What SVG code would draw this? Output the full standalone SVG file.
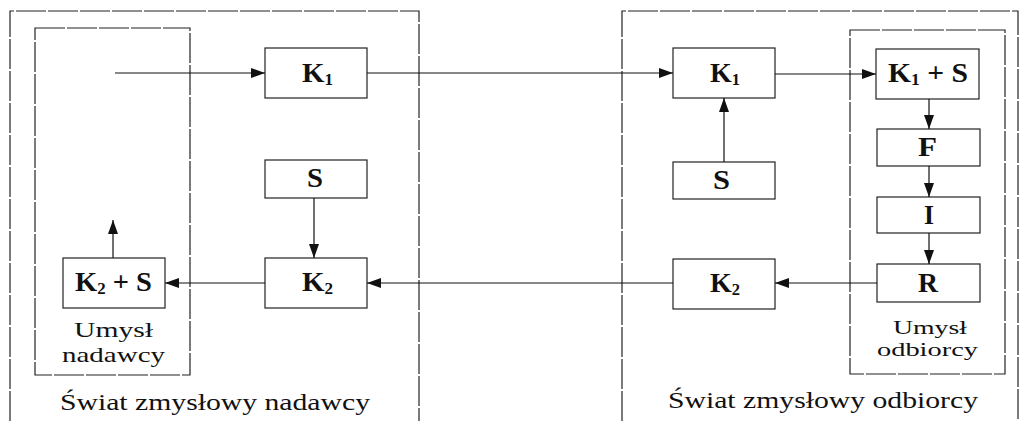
<svg xmlns="http://www.w3.org/2000/svg" width="1024" height="421" viewBox="0 0 1024 421">
<defs>
<marker id="arr" markerUnits="userSpaceOnUse" markerWidth="14" markerHeight="10" refX="14" refY="5" orient="auto">
<path d="M0,0 L14,5 L0,10 z" fill="#111"/>
</marker>
<style>
.frame{fill:none;stroke:#222;stroke-width:1.2;stroke-dasharray:30 2}
.box{fill:#fff;stroke:#222;stroke-width:1.2}
.lbl{font-family:"Liberation Serif","Times New Roman",serif;font-weight:bold;font-size:27px;fill:#111}
.sub{font-size:16px}
.cap{font-family:"Liberation Serif","Times New Roman",serif;font-size:24px;fill:#111}
.cap2{font-family:"Liberation Serif","Times New Roman",serif;font-size:21px;fill:#111}
.cap3{font-family:"Liberation Serif","Times New Roman",serif;font-size:19px;fill:#111}
.conn{fill:none;stroke:#111;stroke-width:1.2;marker-end:url(#arr)}
</style>
</defs>
<rect width="1024" height="421" fill="#fff"/>

<g id="swiat-nadawcy">
<path class="frame" d="M10,421 V11 H419 V421"/>
<text class="cap" x="60" y="410" textLength="310" lengthAdjust="spacingAndGlyphs">Świat zmysłowy nadawcy</text>
</g>
<g id="swiat-odbiorcy">
<path class="frame" d="M622,421 V11 H1018 V421"/>
<text class="cap" x="668" y="408" textLength="310" lengthAdjust="spacingAndGlyphs">Świat zmysłowy odbiorcy</text>
</g>
<g id="umysl-nadawcy">
<rect class="frame" x="35" y="28" width="155" height="347"/>
<text class="cap2" x="74" y="337" textLength="79" lengthAdjust="spacingAndGlyphs">Umysł</text>
<text class="cap2" x="62" y="362" textLength="103" lengthAdjust="spacingAndGlyphs">nadawcy</text>
</g>
<g id="umysl-odbiorcy">
<rect class="frame" x="850" y="30" width="155" height="344"/>
<text class="cap3" x="893" y="334" textLength="74" lengthAdjust="spacingAndGlyphs">Umysł</text>
<text class="cap3" x="877" y="356" textLength="101" lengthAdjust="spacingAndGlyphs">odbiorcy</text>
</g>

<g id="k1-nadawca">
<rect class="box" x="265" y="48" width="102" height="50"/>
<text class="lbl" x="302" y="82" textLength="31" lengthAdjust="spacingAndGlyphs">K<tspan class="sub" dy="3">1</tspan></text>
</g>
<g id="s-nadawca">
<rect class="box" x="265" y="160" width="102" height="38"/>
<text class="lbl" x="307" y="187" textLength="16" lengthAdjust="spacingAndGlyphs">S</text>
</g>
<g id="k2-nadawca">
<rect class="box" x="265" y="258" width="102" height="50"/>
<text class="lbl" x="302" y="291" textLength="31" lengthAdjust="spacingAndGlyphs">K<tspan class="sub" dy="3">2</tspan></text>
</g>
<g id="k2s">
<rect class="box" x="63" y="258" width="102" height="50"/>
<text class="lbl" x="75" y="291" textLength="77" lengthAdjust="spacingAndGlyphs">K<tspan class="sub" dy="3">2</tspan><tspan dy="-3"> + S</tspan></text>
</g>
<g id="k1-odbiorca">
<rect class="box" x="673" y="48" width="102" height="50"/>
<text class="lbl" x="710" y="82" textLength="30" lengthAdjust="spacingAndGlyphs">K<tspan class="sub" dy="3">1</tspan></text>
</g>
<g id="s-odbiorca">
<rect class="box" x="673" y="162" width="102" height="37"/>
<text class="lbl" x="713" y="189" textLength="17" lengthAdjust="spacingAndGlyphs">S</text>
</g>
<g id="k2-odbiorca">
<rect class="box" x="673" y="259" width="102" height="50"/>
<text class="lbl" x="710" y="292" textLength="30" lengthAdjust="spacingAndGlyphs">K<tspan class="sub" dy="3">2</tspan></text>
</g>
<g id="k1s">
<rect class="box" x="876" y="49" width="103" height="50"/>
<text class="lbl" x="888" y="82" textLength="80" lengthAdjust="spacingAndGlyphs">K<tspan class="sub" dy="3">1</tspan><tspan dy="-3"> + S</tspan></text>
</g>
<g id="f">
<rect class="box" x="877" y="129" width="103" height="37"/>
<text class="lbl" x="918" y="156" textLength="19" lengthAdjust="spacingAndGlyphs">F</text>
</g>
<g id="i">
<rect class="box" x="877" y="197" width="103" height="36"/>
<text class="lbl" x="924" y="224" textLength="10" lengthAdjust="spacingAndGlyphs">I</text>
</g>
<g id="r">
<rect class="box" x="877" y="264" width="103" height="38"/>
<text class="lbl" x="918" y="292" textLength="20" lengthAdjust="spacingAndGlyphs">R</text>
</g>

<g id="connectors">
<path class="conn" d="M115,73 H265"/>
<path class="conn" d="M367,73 H673"/>
<path class="conn" d="M775,74 H876"/>
<path class="conn" d="M724,162 V98"/>
<path class="conn" d="M929,99 V129"/>
<path class="conn" d="M929,166 V197"/>
<path class="conn" d="M929,233 V264"/>
<path class="conn" d="M877,283 H775"/>
<path class="conn" d="M673,283 H367"/>
<path class="conn" d="M265,283 H165"/>
<path class="conn" d="M314,198 V258"/>
<path class="conn" d="M113,258 V220"/>
</g>
</svg>
